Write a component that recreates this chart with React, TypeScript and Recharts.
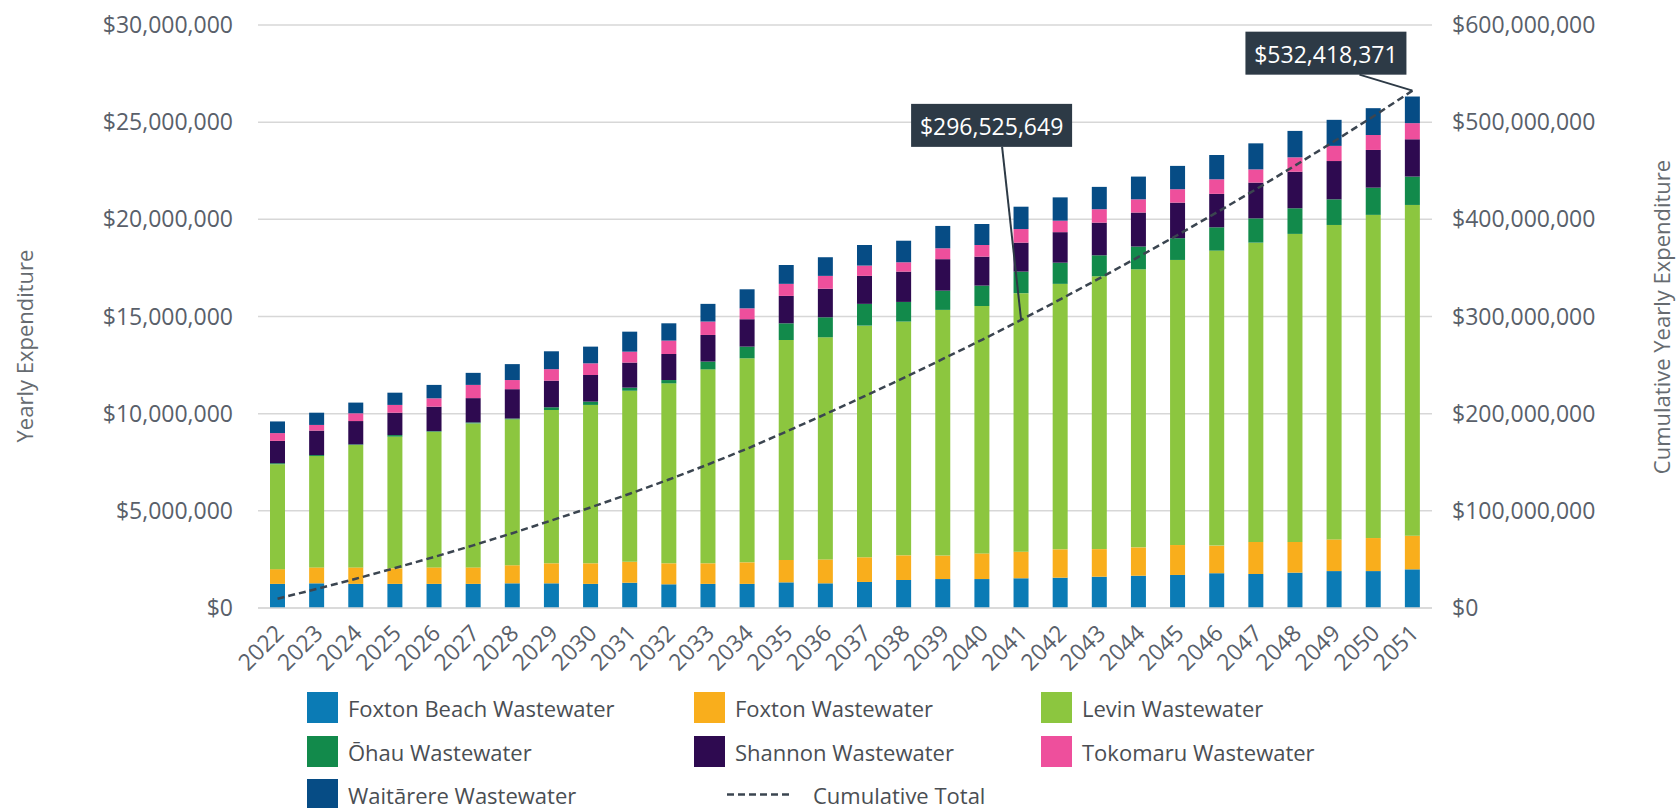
import React from 'react';
import { ComposedChart, Bar, Line, XAxis, YAxis, CartesianGrid, Legend, LabelList } from 'recharts';

// values, millions of dollars per year
const years = [
  '2022', '2023', '2024', '2025', '2026', '2027', '2028', '2029', '2030', '2031',
  '2032', '2033', '2034', '2035', '2036', '2037', '2038', '2039', '2040', '2041',
  '2042', '2043', '2044', '2045', '2046', '2047', '2048', '2049', '2050', '2051',
];
const foxtonBeach = [1.24, 1.27, 1.24, 1.24, 1.24, 1.24, 1.27, 1.27, 1.24, 1.3, 1.22, 1.24, 1.24, 1.32, 1.27, 1.34, 1.44, 1.49, 1.49, 1.53, 1.56, 1.61, 1.66, 1.7, 1.79, 1.75, 1.82, 1.9, 1.9, 1.99];
const foxton = [0.76, 0.82, 0.85, 0.8, 0.85, 0.85, 0.93, 1.03, 1.06, 1.08, 1.08, 1.06, 1.11, 1.15, 1.23, 1.27, 1.27, 1.21, 1.32, 1.37, 1.46, 1.42, 1.46, 1.54, 1.42, 1.65, 1.58, 1.63, 1.7, 1.73];
const levin = [5.4, 5.73, 6.3, 6.78, 6.98, 7.41, 7.51, 7.89, 8.15, 8.8, 9.26, 9.98, 10.5, 11.32, 11.43, 11.92, 12.03, 12.64, 12.73, 13.3, 13.66, 14.04, 14.31, 14.67, 15.18, 15.4, 15.85, 16.18, 16.63, 17.02];
const ohau = [0.05, 0.05, 0.03, 0.08, 0.03, 0.05, 0.04, 0.14, 0.17, 0.16, 0.17, 0.4, 0.6, 0.86, 1.03, 1.12, 1.01, 0.99, 1.05, 1.11, 1.09, 1.08, 1.17, 1.12, 1.2, 1.25, 1.32, 1.32, 1.4, 1.46];
const shannon = [1.15, 1.26, 1.2, 1.15, 1.26, 1.25, 1.51, 1.37, 1.37, 1.29, 1.34, 1.37, 1.41, 1.41, 1.47, 1.44, 1.56, 1.62, 1.49, 1.49, 1.57, 1.68, 1.75, 1.83, 1.72, 1.84, 1.88, 1.97, 1.94, 1.92];
const tokomaru = [0.4, 0.29, 0.4, 0.4, 0.43, 0.68, 0.47, 0.59, 0.6, 0.56, 0.69, 0.69, 0.56, 0.62, 0.66, 0.53, 0.48, 0.56, 0.6, 0.7, 0.59, 0.69, 0.68, 0.69, 0.75, 0.68, 0.74, 0.78, 0.77, 0.83];
const waitarere = [0.6, 0.63, 0.55, 0.63, 0.69, 0.62, 0.82, 0.92, 0.86, 1.03, 0.89, 0.91, 0.98, 0.97, 0.96, 1.06, 1.11, 1.15, 1.08, 1.15, 1.2, 1.15, 1.17, 1.2, 1.25, 1.34, 1.36, 1.34, 1.38, 1.37];
// cumulative total, dollars
const cumulative = [
  9600000, 19600000, 30100000, 41100000, 52500000, 64500000, 77000000, 90100000, 103500000, 117600000,
  132200000, 147700000, 164000000, 181500000, 199500000, 218000000, 236800000, 256300000, 276000000, 296525649,
  317600000, 339200000, 361300000, 383900000, 407100000, 430900000, 455300000, 480300000, 505900000, 532418371,
];
const leftTicks = [0, 5000000, 10000000, 15000000, 20000000, 25000000, 30000000];
const rightTicks = [0, 100000000, 200000000, 300000000, 400000000, 500000000, 600000000];
const calloutYears = ['2041', '2051'];

const series = [
  { key: 'foxtonBeach', name: 'Foxton Beach Wastewater', color: '#0b7bb5', values: foxtonBeach },
  { key: 'foxton', name: 'Foxton Wastewater', color: '#f9ae1c', values: foxton },
  { key: 'levin', name: 'Levin Wastewater', color: '#8cc63f', values: levin },
  { key: 'ohau', name: 'Ōhau Wastewater', color: '#128a4b', values: ohau },
  { key: 'shannon', name: 'Shannon Wastewater', color: '#2e0a50', values: shannon },
  { key: 'tokomaru', name: 'Tokomaru Wastewater', color: '#ee4f9c', values: tokomaru },
  { key: 'waitarere', name: 'Waitārere Wastewater', color: '#064c85', values: waitarere },
];

const rows = years.map((year, i) => {
  const row: Record<string, string | number> = { year, cumulative: cumulative[i] };
  series.forEach((s) => { row[s.key] = s.values[i] * 1e6; });
  return row;
});

const font = "'Open Sans', sans-serif";
const tickColor = '#59606a';
const lineColor = '#3b4550';
const boxColor = '#2d3a46';
const money = (v: number) => '$' + Math.round(v).toLocaleString('en-US');

// where each callout box sits relative to its point
const calloutPos: Record<string, { bx: number; by: number; lx: number; ly: number }> = {
  '2041': { bx: -110, by: -216, lx: -19, ly: -173 },
  '2051': { bx: -167, by: -59, lx: -53, ly: -16 },
};

const Callout = (props: any) => {
  const { x, y, index, value } = props;
  const year = years[index];
  if (!calloutYears.includes(year)) return null;
  const p = calloutPos[year];
  return (
    <g>
      <line x1={x + p.lx} y1={y + p.ly} x2={x} y2={y} stroke={boxColor} strokeWidth={2} />
      <rect x={x + p.bx} y={y + p.by} width={161} height={43} fill={boxColor} />
      <text x={x + p.bx + 80.5} y={y + p.by + 22} textAnchor="middle" dominantBaseline="central"
        fill="#fff" fontSize={23} fontFamily={font}>{money(value)}</text>
    </g>
  );
};

const YearTick = ({ x, y, payload }: any) => {
  const px = x - 4;
  return (
    <text x={px} y={y} dy="0.72em" transform={`rotate(-45 ${px} ${y})`} textAnchor="end"
      fill={tickColor} fontSize={23} fontFamily={font}>{payload.value}</text>
  );
};

const AxisTitle = ({ cx, cy, text }: any) => (
  <text transform={`translate(${cx},${cy}) rotate(-90)`} textAnchor="middle" dominantBaseline="central"
    fill="#666b70" fontSize={22} fontFamily={font}>{text}</text>
);

const legendCols = [307, 694, 1041];
const legendRows = [30, 74, 117];

const LegendGrid = () => (
  <div style={{ position: 'relative', width: 1676, height: 130, fontFamily: font, fontSize: 22, color: '#4a4e53' }}>
    {series.map((s, i) => (
      <div key={s.key} style={{ position: 'absolute', left: legendCols[i % 3], top: legendRows[Math.floor(i / 3)] - 16, height: 31, display: 'flex', alignItems: 'center', whiteSpace: 'nowrap' }}>
        <span style={{ width: 31, height: 31, background: s.color, display: 'inline-block', marginRight: 10 }} />
        <span>{s.name}</span>
      </div>
    ))}
    <div style={{ position: 'absolute', left: 727, top: legendRows[2] - 16, height: 31, display: 'flex', alignItems: 'center', whiteSpace: 'nowrap' }}>
      <svg width={66} height={31} style={{ marginRight: 20 }}>
        <line x1={0} y1={15.5} x2={66} y2={15.5} stroke={lineColor} strokeWidth={2.5} strokeDasharray="7 4" />
      </svg>
      <span>Cumulative Total</span>
    </div>
  </div>
);

export default function App() {
  return (
    <div style={{ position: 'absolute', left: 0, top: 0, width: 1676, height: 808, background: '#fff', fontFamily: font, overflow: 'hidden' }}>
      <ComposedChart width={1676} height={808} data={rows} margin={{ top: 25, right: 0, bottom: 0, left: 0 }}>
        <CartesianGrid yAxisId="left" vertical={false} stroke="#d7d7d7" strokeWidth={1.5} />
        <XAxis dataKey="year" interval={0} height={70} tickLine={false} axisLine={{ stroke: '#d7d7d7', strokeWidth: 1.5 }}
          tickSize={0} tickMargin={15} tick={<YearTick />} />
        <YAxis yAxisId="left" width={258} domain={[0, 30000000]} ticks={leftTicks} tickFormatter={money}
          axisLine={false} tickLine={false} tickSize={0} tickMargin={25}
          tick={{ fill: tickColor, fontSize: 23, fontFamily: font }}
          label={<AxisTitle cx={24} cy={346} text="Yearly Expenditure" />} />
        <YAxis yAxisId="right" orientation="right" width={244} domain={[0, 600000000]} ticks={rightTicks} tickFormatter={money}
          axisLine={false} tickLine={false} tickSize={0} tickMargin={20}
          tick={{ fill: tickColor, fontSize: 23, fontFamily: font, textAnchor: 'start' }}
          label={<AxisTitle cx={1661} cy={317} text="Cumulative Yearly Expenditure" />} />
        {series.map((s) => (
          <Bar key={s.key} yAxisId="left" dataKey={s.key} name={s.name} stackId="spend" fill={s.color}
            barSize={15} isAnimationActive={false} />
        ))}
        <Line yAxisId="right" dataKey="cumulative" name="Cumulative Total" type="linear" stroke={lineColor}
          strokeWidth={2.5} strokeDasharray="7 4" dot={false} activeDot={false} isAnimationActive={false}>
          <LabelList dataKey="cumulative" content={<Callout />} />
        </Line>
        <Legend verticalAlign="bottom" content={() => <LegendGrid />}
          wrapperStyle={{ left: 0, top: 678, bottom: 'auto', width: 1676, height: 130 }} />
      </ComposedChart>
    </div>
  );
}
